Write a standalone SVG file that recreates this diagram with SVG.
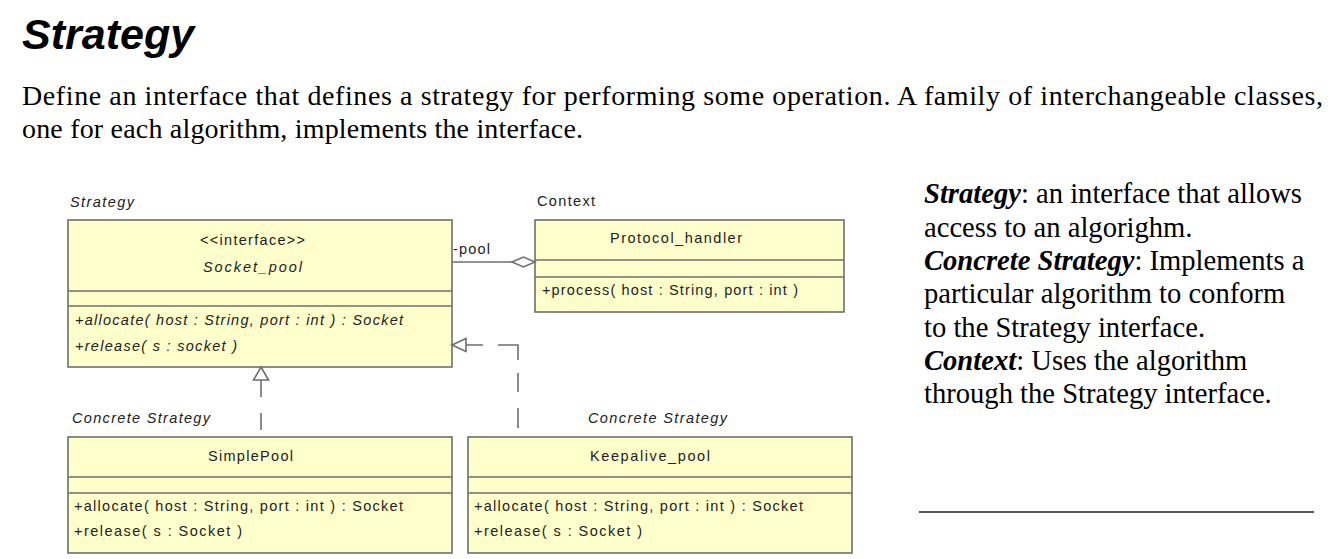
<svg xmlns="http://www.w3.org/2000/svg" width="1336" height="559" viewBox="0 0 1336 559">
<style>
.title{font-family:"Liberation Sans",Arial,sans-serif;font-size:43px;font-weight:bold;font-style:italic;fill:#000}
.para{font-family:"Liberation Serif","Times New Roman",serif;font-size:28px;fill:#000}
.leg{font-family:"Liberation Serif","Times New Roman",serif;font-size:28.6px;fill:#000}
.bi{font-weight:bold;font-style:italic}
.box{fill:#ffffcc;stroke:#6e6e6e;stroke-width:1.6}
.div{stroke:#6e6e6e;stroke-width:1.6}
.t{font-family:"Liberation Sans",Arial,sans-serif;font-size:14.5px;fill:#222}
.i{font-style:italic}
.conn{fill:none;stroke:#6e6e6e;stroke-width:1.6}
.head{fill:#fff;stroke:#6e6e6e;stroke-width:1.6}
</style>
<rect x="0" y="0" width="1336" height="559" fill="#fff"/>
<text class="title" x="22" y="49">Strategy</text>
<text class="para" x="22" y="105" textLength="1301">Define an interface that defines a strategy for performing some operation. A family of interchangeable classes,</text>
<text class="para" x="22" y="138" textLength="561">one for each algorithm, implements the interface.</text>

<g id="strategy">
<text class="t i" x="70" y="207" textLength="64">Strategy</text>
<rect class="box" x="68" y="220" width="384" height="147"/>
<line class="div" x1="68" y1="291" x2="452" y2="291"/>
<line class="div" x1="68" y1="306" x2="452" y2="306"/>
<text class="t" x="200" y="245" textLength="105">&lt;&lt;interface&gt;&gt;</text>
<text class="t i" x="203" y="272" textLength="99">Socket_pool</text>
<text class="t i" x="75" y="325" textLength="328">+allocate( host : String, port : int ) : Socket</text>
<text class="t i" x="75" y="351" textLength="162">+release( s : socket )</text>
</g>

<g id="context">
<text class="t" x="537" y="206" textLength="58">Context</text>
<rect class="box" x="535" y="220" width="309" height="92"/>
<line class="div" x1="535" y1="260" x2="844" y2="260"/>
<line class="div" x1="535" y1="277" x2="844" y2="277"/>
<text class="t" x="610" y="243" textLength="132">Protocol_handler</text>
<text class="t" x="542" y="295" textLength="256">+process( host : String, port : int )</text>
</g>

<g id="simplepool">
<text class="t i" x="72" y="423" textLength="138">Concrete Strategy</text>
<rect class="box" x="68" y="437" width="384" height="116"/>
<line class="div" x1="68" y1="477" x2="452" y2="477"/>
<line class="div" x1="68" y1="493" x2="452" y2="493"/>
<text class="t" x="208" y="461" textLength="85">SimplePool</text>
<text class="t" x="74" y="511" textLength="329">+allocate( host : String, port : int ) : Socket</text>
<text class="t" x="74" y="536" textLength="168">+release( s : Socket )</text>
</g>

<g id="keepalive">
<text class="t i" x="588" y="423" textLength="139">Concrete Strategy</text>
<rect class="box" x="468" y="437" width="384" height="116"/>
<line class="div" x1="468" y1="477" x2="852" y2="477"/>
<line class="div" x1="468" y1="493" x2="852" y2="493"/>
<text class="t" x="590" y="461" textLength="120">Keepalive_pool</text>
<text class="t" x="474" y="511" textLength="329">+allocate( host : String, port : int ) : Socket</text>
<text class="t" x="474" y="536" textLength="168">+release( s : Socket )</text>
</g>

<g id="connectors">
<line class="conn" x1="452" y1="262" x2="512" y2="262"/>
<polygon class="head" points="512,262 523.5,257 535,262 523.5,267"/>
<text class="t" x="453" y="254" textLength="37">-pool</text>
<path class="conn" d="M261,430 V413 M261,397 V380"/>
<polygon class="head" points="261,367 268.5,380 253.5,380"/>
<path class="conn" d="M518,428 V408 M518,392 V373 M518,360 V345 H498 M483,345 H466"/>
<polygon class="head" points="452,345 466,338.5 466,351.5"/>
</g>

<g id="legend">
<text class="leg" x="924" y="203"><tspan class="bi">Strategy</tspan>: an interface that allows</text>
<text class="leg" x="924" y="237">access to an algorighm.</text>
<text class="leg" x="924" y="270"><tspan class="bi">Concrete Strategy</tspan>: Implements a</text>
<text class="leg" x="924" y="303">particular algorithm to conform</text>
<text class="leg" x="924" y="337">to the Strategy interface.</text>
<text class="leg" x="924" y="370"><tspan class="bi">Context</tspan>: Uses the algorithm</text>
<text class="leg" x="924" y="403">through the Strategy interface.</text>
<line x1="919" y1="512" x2="1314" y2="512" stroke="#222" stroke-width="1.5"/>
</g>
</svg>
